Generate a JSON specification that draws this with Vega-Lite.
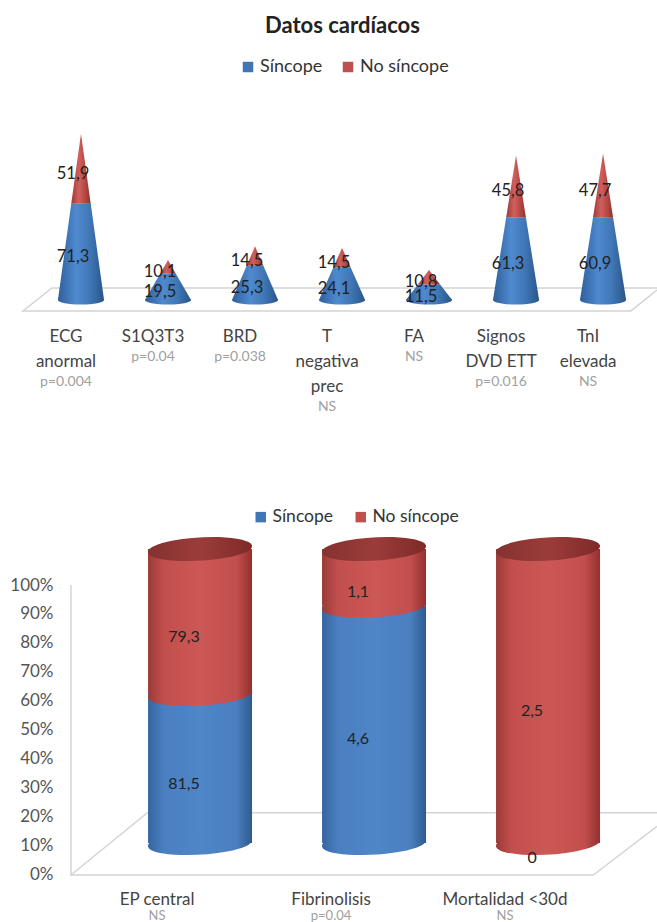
{
"$schema":"https://vega.github.io/schema/vega-lite/v6.json",
"padding":{"left":9,"top":15,"right":0,"bottom":0},
"background":"white",
"bounds":"flush",
"spacing":72,
"resolve":{"scale":{"color":"independent"}},
"title":{"text":"Datos cardíacos","font":"Lato","fontSize":22,"fontWeight":"bold","color":"#222","anchor":"start","frame":"group","dx":245,"offset":7},
"config":{"view":{"stroke":null},"axis":{"disable":true},"font":"Lato"},
"datasets":{
"piso":[{"o":1,"x":7.62,"y":8.9},{"o":2,"x":0.667,"y":8.9},{"o":3,"x":0.333,"y":-8.1},{"o":4,"x":7.32,"y":-8.1},{"o":5,"x":7.62,"y":7.4}],
"conos":[
{"cat":"ECG anormal","c":1,"serie":"Síncope","valor":71.3,"txt":"71,3"},{"cat":"ECG anormal","c":1,"serie":"No síncope","valor":51.9,"txt":"51,9"},
{"cat":"S1Q3T3","c":2,"serie":"Síncope","valor":19.5,"txt":"19,5"},{"cat":"S1Q3T3","c":2,"serie":"No síncope","valor":10.1,"txt":"10,1"},
{"cat":"BRD","c":3,"serie":"Síncope","valor":25.3,"txt":"25,3"},{"cat":"BRD","c":3,"serie":"No síncope","valor":14.5,"txt":"14,5"},
{"cat":"T negativa prec","c":4,"serie":"Síncope","valor":24.1,"txt":"24,1"},{"cat":"T negativa prec","c":4,"serie":"No síncope","valor":14.5,"txt":"14,5"},
{"cat":"FA","c":5,"serie":"Síncope","valor":11.5,"txt":"11,5"},{"cat":"FA","c":5,"serie":"No síncope","valor":10.8,"txt":"10,8"},
{"cat":"Signos DVD ETT","c":6,"serie":"Síncope","valor":61.3,"txt":"61,3"},{"cat":"Signos DVD ETT","c":6,"serie":"No síncope","valor":45.8,"txt":"45,8"},
{"cat":"TnI elevada","c":7,"serie":"Síncope","valor":60.9,"txt":"60,9"},{"cat":"TnI elevada","c":7,"serie":"No síncope","valor":47.7,"txt":"47,7"}],
"siluetas":[
{"cat":"ECG","serie":"Síncope","nivel":0,"izq":0.735,"der":1.265},{"cat":"ECG","serie":"Síncope","nivel":71.3,"izq":0.888,"der":1.112},{"cat":"ECG","serie":"No síncope","nivel":71.3,"izq":0.888,"der":1.112},{"cat":"ECG","serie":"No síncope","nivel":123.2,"izq":1,"der":1},
{"cat":"S1","serie":"Síncope","nivel":0,"izq":1.735,"der":2.265},{"cat":"S1","serie":"Síncope","nivel":19.5,"izq":1.91,"der":2.09},{"cat":"S1","serie":"No síncope","nivel":19.5,"izq":1.91,"der":2.09},{"cat":"S1","serie":"No síncope","nivel":29.6,"izq":2,"der":2},
{"cat":"BRD","serie":"Síncope","nivel":0,"izq":2.735,"der":3.265},{"cat":"BRD","serie":"Síncope","nivel":25.3,"izq":2.904,"der":3.096},{"cat":"BRD","serie":"No síncope","nivel":25.3,"izq":2.904,"der":3.096},{"cat":"BRD","serie":"No síncope","nivel":39.8,"izq":3,"der":3},
{"cat":"T","serie":"Síncope","nivel":0,"izq":3.735,"der":4.265},{"cat":"T","serie":"Síncope","nivel":24.1,"izq":3.9,"der":4.1},{"cat":"T","serie":"No síncope","nivel":24.1,"izq":3.9,"der":4.1},{"cat":"T","serie":"No síncope","nivel":38.6,"izq":4,"der":4},
{"cat":"FA","serie":"Síncope","nivel":0,"izq":4.735,"der":5.265},{"cat":"FA","serie":"Síncope","nivel":11.5,"izq":4.872,"der":5.128},{"cat":"FA","serie":"No síncope","nivel":11.5,"izq":4.872,"der":5.128},{"cat":"FA","serie":"No síncope","nivel":22.3,"izq":5,"der":5},
{"cat":"Signos","serie":"Síncope","nivel":0,"izq":5.735,"der":6.265},{"cat":"Signos","serie":"Síncope","nivel":61.3,"izq":5.887,"der":6.113},{"cat":"Signos","serie":"No síncope","nivel":61.3,"izq":5.887,"der":6.113},{"cat":"Signos","serie":"No síncope","nivel":107.1,"izq":6,"der":6},
{"cat":"TnI","serie":"Síncope","nivel":0,"izq":6.735,"der":7.265},{"cat":"TnI","serie":"Síncope","nivel":60.9,"izq":6.884,"der":7.116},{"cat":"TnI","serie":"No síncope","nivel":60.9,"izq":6.884,"der":7.116},{"cat":"TnI","serie":"No síncope","nivel":108.6,"izq":7,"der":7}],
"etiquetas":[
{"c":1,"n":2,"lineas":["ECG","anormal"],"p":"p=0.004"},
{"c":2,"n":1,"lineas":["S1Q3T3"],"p":"p=0.04"},
{"c":3,"n":1,"lineas":["BRD"],"p":"p=0.038"},
{"c":4,"n":3,"lineas":["T","negativa","prec"],"p":"NS"},
{"c":5,"n":1,"lineas":["FA"],"p":"NS"},
{"c":6,"n":2,"lineas":["Signos","DVD ETT"],"p":"p=0.016"},
{"c":7,"n":2,"lineas":["TnI","elevada"],"p":"NS"}],
"piso2":[{"t":"a","o":1,"x":8,"y":100},{"t":"a","o":2,"x":8,"y":0},{"t":"a","o":3,"x":20,"y":21.5},{"t":"a","o":4,"x":100,"y":21.5},{"t":"b","o":1,"x":8,"y":0},{"t":"b","o":2,"x":90,"y":0},{"t":"b","o":3,"x":100,"y":16.8}],
"cilindros":[
{"cat":"EP central","serie":"Síncope","valor":81.5,"txt":"81,5","p":"NS"},{"cat":"EP central","serie":"No síncope","valor":79.3,"txt":"79,3","p":"NS"},
{"cat":"Fibrinolisis","serie":"Síncope","valor":4.6,"txt":"4,6","p":"p=0.04"},{"cat":"Fibrinolisis","serie":"No síncope","valor":1.1,"txt":"1,1","p":"p=0.04"},
{"cat":"Mortalidad <30d","serie":"Síncope","valor":0,"txt":"0","p":"NS"},{"cat":"Mortalidad <30d","serie":"No síncope","valor":2.5,"txt":"2,5","p":"NS"}]
},
"vconcat":[
{"width":637,"height":375,
"layer":[
{"data":{"name":"piso"},"mark":{"type":"line","color":"#d4d4d4","strokeWidth":1.5},
 "encoding":{"x":{"field":"x","type":"quantitative","scale":{"domain":[0.299,7.62],"nice":false,"zero":false}},"y":{"field":"y","type":"quantitative","scale":{"domain":[-88.9,188.9],"nice":false,"zero":false}},"order":{"field":"o"}}},
{"data":{"name":"conos"},"mark":{"type":"point","filled":true,"opacity":0},
 "encoding":{"x":{"field":"c","type":"quantitative"},"y":{"datum":0},"color":{"field":"serie","type":"nominal","scale":{"domain":["Síncope","No síncope"],"range":["#3f76b5","#c0504d"]},
 "legend":{"orient":"none","legendX":219,"legendY":13,"direction":"horizontal","title":null,"symbolType":"square","symbolOpacity":1,"symbolSize":110,"labelFont":"Lato","labelFontSize":18,"labelColor":"#333","columnPadding":16,"labelOffset":3}}}},
{"data":{"name":"siluetas"},"transform":[{"filter":"datum.serie=='Síncope'"}],
 "mark":{"type":"area","orient":"horizontal","fill":{"gradient":"linear","x1":0,"x2":1,"y1":0,"y2":0,"stops":[{"offset":0,"color":"#2f5f9a"},{"offset":0.4,"color":"#4f8ad0"},{"offset":0.7,"color":"#3f76b5"},{"offset":1,"color":"#2a5588"}]}},
 "encoding":{"y":{"field":"nivel","type":"quantitative"},"x":{"field":"izq","type":"quantitative"},"x2":{"field":"der"},"detail":{"field":"cat"}}},
{"data":{"name":"conos"},"transform":[{"filter":"datum.serie=='Síncope'"}],
 "mark":{"type":"point","filled":true,"opacity":1,"size":2116,"shape":"M-1,0A1,0.2 0 1,0 1,0A1,0.2 0 1,0 -1,0Z","fill":{"gradient":"linear","x1":0,"x2":1,"y1":0,"y2":0,"stops":[{"offset":0,"color":"#2f5f9a"},{"offset":0.4,"color":"#4f8ad0"},{"offset":0.7,"color":"#3f76b5"},{"offset":1,"color":"#2a5588"}]}},
 "encoding":{"x":{"field":"c","type":"quantitative"},"y":{"datum":0}}},
{"data":{"name":"siluetas"},"transform":[{"filter":"datum.serie=='No síncope'"}],
 "mark":{"type":"area","orient":"horizontal","fill":{"gradient":"linear","x1":0,"x2":1,"y1":0,"y2":0,"stops":[{"offset":0,"color":"#9a3a38"},{"offset":0.4,"color":"#d0605c"},{"offset":0.6,"color":"#c0504d"},{"offset":1,"color":"#8f3330"}]}},
 "encoding":{"y":{"field":"nivel","type":"quantitative"},"x":{"field":"izq","type":"quantitative"},"x2":{"field":"der"},"detail":{"field":"cat"}}},
{"data":{"name":"conos"},"transform":[{"stack":"valor","groupby":["cat"],"sort":[{"field":"serie","order":"descending"}],"as":["y0","y1"]},{"fold":["y0","y1"]}],
 "mark":{"type":"text","font":"Lato","fontSize":16.5,"color":"#222","dx":-8,"dy":5},
 "encoding":{"x":{"field":"c","type":"quantitative"},"y":{"aggregate":"mean","field":"value","type":"quantitative"},"detail":{"field":"serie"},"text":{"field":"txt"}}},
{"data":{"name":"etiquetas"},"mark":{"type":"text","font":"Lato","fontSize":17,"color":"#444","baseline":"top","lineHeight":25,"dx":-15},
 "encoding":{"x":{"field":"c","type":"quantitative"},"y":{"datum":-21.5},"text":{"field":"lineas"}}},
{"data":{"name":"etiquetas"},"transform":[{"filter":"datum.n==1"}],"mark":{"type":"text","font":"Lato","fontSize":14,"color":"#a0a0a0","baseline":"top","dx":-15},
 "encoding":{"x":{"field":"c","type":"quantitative"},"y":{"datum":-37},"text":{"field":"p"}}},
{"data":{"name":"etiquetas"},"transform":[{"filter":"datum.n==2"}],"mark":{"type":"text","font":"Lato","fontSize":14,"color":"#a0a0a0","baseline":"top","dx":-15},
 "encoding":{"x":{"field":"c","type":"quantitative"},"y":{"datum":-55.5},"text":{"field":"p"}}},
{"data":{"name":"etiquetas"},"transform":[{"filter":"datum.n==3"}],"mark":{"type":"text","font":"Lato","fontSize":14,"color":"#a0a0a0","baseline":"top","dx":-15},
 "encoding":{"x":{"field":"c","type":"quantitative"},"y":{"datum":-74},"text":{"field":"p"}}}
]},
{"width":637,"height":432,
"resolve":{"scale":{"x":"independent","y":"independent"}},
"layer":[
{"data":{"name":"piso2"},"mark":{"type":"line","color":"#d4d4d4","strokeWidth":1.5},
 "encoding":{"x":{"field":"x","type":"quantitative","scale":{"domain":[0,100],"nice":false}},"y":{"field":"y","type":"quantitative","scale":{"domain":[-16.9,132.07],"nice":false,"zero":false},
 "axis":{"disable":false,"title":null,"offset":-51,"values":[0,10,20,30,40,50,60,70,80,90,100],"labelExpr":"datum.value+'%'","grid":false,"domain":false,"ticks":false,"labelFont":"Lato","labelFontSize":17,"labelColor":"#555","labelPadding":18}},"detail":{"field":"t"},"order":{"field":"o"}}},
{"data":{"name":"cilindros"},"mark":{"type":"point","filled":true,"opacity":0},
 "encoding":{"color":{"field":"serie","type":"nominal","scale":{"domain":["Síncope","No síncope"],"range":["#3f76b5","#c0504d"]},
  "legend":{"orient":"none","legendX":232,"legendY":16,"direction":"horizontal","title":null,"symbolType":"square","symbolOpacity":1,"symbolSize":110,"labelFont":"Lato","labelFontSize":17.5,"labelColor":"#333","columnPadding":18,"labelOffset":3}}}},
{"data":{"name":"cilindros"},
 "transform":[{"stack":"valor","groupby":["cat"],"sort":[{"field":"serie","order":"descending"}],"offset":"normalize","as":["y0","y1"]}],
 "layer":[
 {"transform":[{"filter":"datum.serie=='Síncope' && datum.valor>0"}],
  "mark":{"type":"bar","size":104,"fill":{"gradient":"linear","x1":0,"x2":1,"y1":0,"y2":0,"stops":[{"offset":0,"color":"#34659f"},{"offset":0.15,"color":"#4a7fc0"},{"offset":0.5,"color":"#4f86c8"},{"offset":0.85,"color":"#4a7fc0"},{"offset":1,"color":"#2f5a8e"}]}},
  "encoding":{"x":{"field":"cat","type":"nominal","sort":null,"scale":{"domain":["EP central","Fibrinolisis","Mortalidad <30d"],"paddingInner":0,"paddingOuter":0.3305,"align":0.809}},"y":{"field":"y0","type":"quantitative","scale":{"domain":[-0.2755,1.194],"nice":false,"zero":false}},"y2":{"field":"y1"}}},
 {"transform":[{"filter":"datum.serie=='Síncope' && datum.valor>0"}],
  "mark":{"type":"point","filled":true,"opacity":1,"size":10816,"shape":"M-1,0.06A1.002,0.22 -3.4 1,0 1,-0.06A1.002,0.22 -3.4 1,0 -1,0.06Z","fill":{"gradient":"linear","x1":0,"x2":1,"y1":0,"y2":0,"stops":[{"offset":0,"color":"#34659f"},{"offset":0.15,"color":"#4a7fc0"},{"offset":0.5,"color":"#4f86c8"},{"offset":0.85,"color":"#4a7fc0"},{"offset":1,"color":"#2f5a8e"}]}},
  "encoding":{"x":{"field":"cat","type":"nominal","sort":null},"y":{"field":"y0","type":"quantitative"}}},
 {"transform":[{"filter":"datum.serie=='No síncope'"}],
  "mark":{"type":"bar","size":104,"fill":{"gradient":"linear","x1":0,"x2":1,"y1":0,"y2":0,"stops":[{"offset":0,"color":"#9a3a38"},{"offset":0.15,"color":"#c24f4d"},{"offset":0.5,"color":"#cc5855"},{"offset":0.85,"color":"#c24f4d"},{"offset":1,"color":"#93302e"}]}},
  "encoding":{"x":{"field":"cat","type":"nominal","sort":null},"y":{"field":"y0","type":"quantitative"},"y2":{"field":"y1"}}},
 {"transform":[{"filter":"datum.serie=='No síncope'"}],
  "mark":{"type":"point","filled":true,"opacity":1,"size":10816,"shape":"M-1,0.06A1.002,0.22 -3.4 1,0 1,-0.06A1.002,0.22 -3.4 1,0 -1,0.06Z","fill":{"gradient":"linear","x1":0,"x2":1,"y1":0,"y2":0,"stops":[{"offset":0,"color":"#9a3a38"},{"offset":0.15,"color":"#c24f4d"},{"offset":0.5,"color":"#cc5855"},{"offset":0.85,"color":"#c24f4d"},{"offset":1,"color":"#93302e"}]}},
  "encoding":{"x":{"field":"cat","type":"nominal","sort":null},"y":{"field":"y0","type":"quantitative"}}},
 {"transform":[{"filter":"datum.serie=='No síncope'"}],
  "mark":{"type":"point","filled":true,"opacity":1,"size":10816,"shape":"M-1,0.06A1.002,0.22 -3.4 1,0 1,-0.06A1.002,0.22 -3.4 1,0 -1,0.06Z","fill":{"gradient":"linear","x1":0,"x2":1,"y1":0,"y2":0,"stops":[{"offset":0,"color":"#843230"},{"offset":0.5,"color":"#9c3c3a"},{"offset":1,"color":"#7e2a28"}]}},
  "encoding":{"x":{"field":"cat","type":"nominal","sort":null},"y":{"field":"y1","type":"quantitative"}}},
 {"transform":[{"fold":["y0","y1"]}],
  "mark":{"type":"text","font":"Lato","fontSize":16,"color":"#222","dx":-16,"dy":15},
  "encoding":{"x":{"field":"cat","type":"nominal","sort":null},"y":{"aggregate":"mean","field":"value","type":"quantitative"},"detail":{"field":"serie"},"text":{"field":"txt"}}},
 {"transform":[{"filter":"datum.serie=='Síncope'"}],
  "mark":{"type":"text","font":"Lato","fontSize":17,"color":"#444","dx":-43},
  "encoding":{"x":{"field":"cat","type":"nominal","sort":null},"y":{"datum":-0.194},"text":{"field":"cat"}}},
 {"transform":[{"filter":"datum.serie=='Síncope'"}],
  "mark":{"type":"text","font":"Lato","fontSize":13,"color":"#a0a0a0","dx":-43},
  "encoding":{"x":{"field":"cat","type":"nominal","sort":null},"y":{"datum":-0.2483},"text":{"field":"p"}}}
 ]}
]}
]
}
